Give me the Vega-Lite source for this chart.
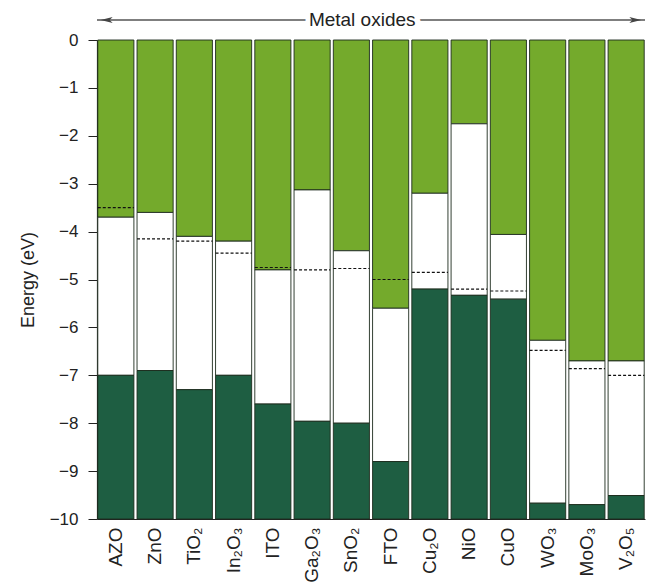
{
  "$schema": "https://vega.github.io/schema/vega-lite/v6.json",
  "width": 548,
  "height": 479,
  "autosize": {"type": "none"},
  "padding": {"left": 97, "top": 40, "right": 10, "bottom": 64},
  "background": "white",
  "config": {
    "view": {"stroke": null},
    "font": "Liberation Sans",
    "axis": {"labelFont": "Liberation Sans", "titleFont": "Liberation Sans", "labelColor": "#222", "titleColor": "#222", "domainColor": "#222", "tickColor": "#222", "grid": false}
  },
  "datasets": {
    "bands": [
      {"oxide": "AZO", "cb": -3.7, "ef": -3.5, "vb": -7.0},
      {"oxide": "ZnO", "cb": -3.6, "ef": -4.15, "vb": -6.9},
      {"oxide": "TiO₂", "cb": -4.1, "ef": -4.2, "vb": -7.3},
      {"oxide": "In₂O₃", "cb": -4.2, "ef": -4.45, "vb": -7.0},
      {"oxide": "ITO", "cb": -4.8, "ef": -4.75, "vb": -7.6},
      {"oxide": "Ga₂O₃", "cb": -3.13, "ef": -4.8, "vb": -7.96},
      {"oxide": "SnO₂", "cb": -4.4, "ef": -4.77, "vb": -8.0},
      {"oxide": "FTO", "cb": -5.6, "ef": -5.0, "vb": -8.8},
      {"oxide": "Cu₂O", "cb": -3.2, "ef": -4.85, "vb": -5.2},
      {"oxide": "NiO", "cb": -1.75, "ef": -5.2, "vb": -5.33},
      {"oxide": "CuO", "cb": -4.06, "ef": -5.24, "vb": -5.41},
      {"oxide": "WO₃", "cb": -6.27, "ef": -6.48, "vb": -9.67},
      {"oxide": "MoO₃", "cb": -6.7, "ef": -6.86, "vb": -9.7},
      {"oxide": "V₂O₅", "cb": -6.7, "ef": -7.0, "vb": -9.51}
    ],
    "header": [{"label": "Metal oxides", "level": 0.42}]
  },
  "layer": [
    {
      "data": {"name": "bands"},
      "mark": {"type": "bar", "color": "#74aa2c", "stroke": "#1d2b1d", "strokeWidth": 0.9},
      "encoding": {
        "x": {
          "field": "oxide", "type": "nominal", "sort": null,
          "scale": {"paddingInner": 0.08, "paddingOuter": 0.02},
          "axis": {"title": null, "labelAngle": -90, "labelFontSize": 19, "ticks": false, "labelPadding": 8, "domainWidth": 1.2}
        },
        "y": {
          "field": "cb", "type": "quantitative",
          "scale": {"domain": [-10, 0], "nice": false, "zero": false},
          "axis": {
            "title": "Energy (eV)", "titleFontSize": 18, "titleFontWeight": "normal", "titlePadding": 12,
            "values": [0, -1, -2, -3, -4, -5, -6, -7, -8, -9, -10],
            "tickCount": 20,
            "format": ".0f", "labelOverlap": false, "labelFontSize": 17, "labelPadding": 10,
            "tickSize": 9, "tickWidth": 1, "domainWidth": 1.2
          }
        },
        "y2": {"datum": 0}
      }
    },
    {
      "data": {"name": "bands"},
      "mark": {"type": "bar", "color": "#ffffff", "stroke": "#1d2b1d", "strokeWidth": 0.9},
      "encoding": {
        "x": {"field": "oxide", "type": "nominal", "sort": null},
        "y": {"field": "cb", "type": "quantitative"},
        "y2": {"field": "vb"}
      }
    },
    {
      "data": {"name": "bands"},
      "mark": {"type": "bar", "color": "#1e5e42", "stroke": "#1d2b1d", "strokeWidth": 0.9},
      "encoding": {
        "x": {"field": "oxide", "type": "nominal", "sort": null},
        "y": {"field": "vb", "type": "quantitative"},
        "y2": {"datum": -10}
      }
    },
    {
      "data": {"name": "bands"},
      "mark": {"type": "rule", "color": "#111", "strokeWidth": 1.2, "strokeDash": [3, 2]},
      "encoding": {
        "x": {"field": "oxide", "type": "nominal", "sort": null, "bandPosition": 0},
        "x2": {"field": "oxide", "bandPosition": 1},
        "y": {"field": "ef", "type": "quantitative"}
      }
    },
    {
      "data": {"name": "header"},
      "layer": [
        {
          "mark": {"type": "rule", "color": "#555", "strokeWidth": 1.5},
          "encoding": {"y": {"field": "level", "type": "quantitative"}}
        },
        {
          "mark": {"type": "point", "shape": "M0,0L-2,-0.5L-1.5,0L-2,0.5Z", "filled": true, "color": "#444", "size": 144, "opacity": 1, "angle": 180},
          "encoding": {
            "x": {"datum": "AZO", "bandPosition": 0.08},
            "y": {"field": "level", "type": "quantitative"}
          }
        },
        {
          "mark": {"type": "point", "shape": "M0,0L-2,-0.5L-1.5,0L-2,0.5Z", "filled": true, "color": "#444", "size": 144, "opacity": 1},
          "encoding": {
            "x": {"datum": "V₂O₅", "bandPosition": 0.92},
            "y": {"field": "level", "type": "quantitative"}
          }
        },
        {
          "mark": {"type": "text", "fontSize": 19, "fill": "white", "stroke": "white", "strokeWidth": 10, "baseline": "middle"},
          "encoding": {
            "text": {"field": "label"},
            "x": {"datum": "SnO₂", "bandPosition": 0.8},
            "y": {"field": "level", "type": "quantitative"}
          }
        },
        {
          "mark": {"type": "text", "fontSize": 19, "color": "#222", "baseline": "middle"},
          "encoding": {
            "text": {"field": "label"},
            "x": {"datum": "SnO₂", "bandPosition": 0.8},
            "y": {"field": "level", "type": "quantitative"}
          }
        }
      ]
    }
  ]
}
